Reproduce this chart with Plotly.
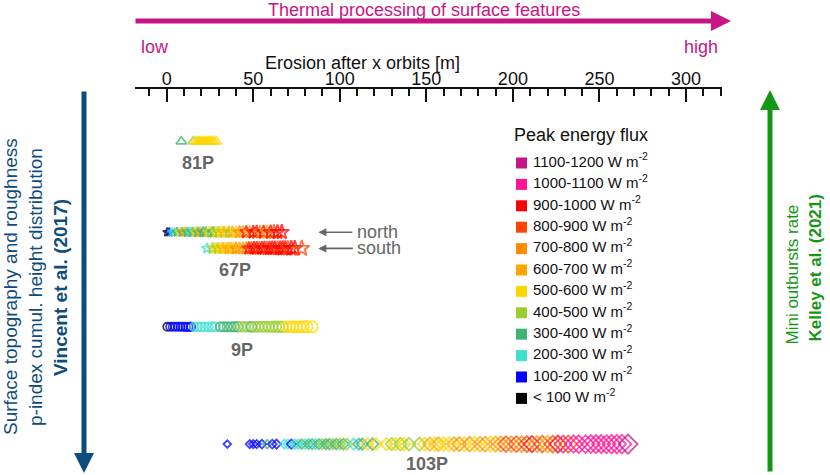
import plotly.graph_objects as go

# peak energy flux bins (lower bound, W m-2) -> colour
flux_bins = [1100, 1000, 900, 800, 700, 600, 500, 400, 300, 200, 100, 0]
flux_colors = ["#C71585", "#FF1493", "#FF0000", "#FF4500", "#FF8C00", "#FFA500",
               "#FFD700", "#9ACD32", "#3CB371", "#40E0D0", "#0000FF", "#000000"]
flux_labels = ["1100-1200 W m<sup>-2</sup>", "1000-1100 W m<sup>-2</sup>", "900-1000 W m<sup>-2</sup>",
               "800-900 W m<sup>-2</sup>", "700-800 W m<sup>-2</sup>", "600-700 W m<sup>-2</sup>",
               "500-600 W m<sup>-2</sup>", "400-500 W m<sup>-2</sup>", "300-400 W m<sup>-2</sup>",
               "200-300 W m<sup>-2</sup>", "100-200 W m<sup>-2</sup>", "< 100 W m<sup>-2</sup>"]
color_of = dict(zip(flux_bins, flux_colors))

# erosion [m] and peak flux bin per surface point
x_81p = [8.5, 15.5, 17, 18, 19, 20, 21, 22, 23, 24, 25, 26, 27, 28.5]
f_81p = [300, 400, 500, 500, 500, 500, 500, 500, 500, 500, 500, 500, 500, 500]

x_67n = [0.3, 1.5, 3, 4.5, 6, 7.5, 9, 10.5, 12, 13.5, 15, 16.5, 18, 19.5, 21, 22.5, 24, 25.5,
         27, 28.5, 30, 31.5, 33, 34.5, 36, 38, 40, 42, 44, 46, 48, 50, 52, 54, 56, 58, 60,
         62, 64, 66.5]
f_67n = [0, 100, 200, 200, 300, 500, 300, 600, 300, 200, 300, 500, 300, 600, 300, 300, 500, 400,
         300, 500, 400, 500, 600, 500, 400, 600, 500, 700, 600, 900, 600, 900, 900, 700, 900, 600, 900,
         800, 900, 900]

x_67s = [23.3, 26.5, 28, 29.5, 31, 32.5, 34, 35.5, 37, 38.5, 40, 42, 44, 46, 47.5, 49, 50.5, 52,
         53.5, 55, 56.5, 58, 59.5, 61, 62.5, 64, 65.5, 67, 68.5, 70, 72, 74, 78]
f_67s = [200, 400, 500, 400, 500, 600, 500, 600, 600, 500, 700, 600, 600, 700, 900, 800, 900, 900,
         800, 900, 900, 800, 900, 900, 900, 800, 900, 900, 900, 800, 900, 900, 800]

x_9p = [0.3, 2, 3.5, 5, 6.5, 8, 9.5, 11, 12.5, 14, 16, 18, 20, 22, 24, 26, 28, 31, 33, 35, 37,
        39, 41, 43, 45, 47, 49, 51, 53, 55, 57, 59, 61, 63, 65, 67, 69, 71, 73, 75, 77, 79, 81, 84]
f_9p = [0, 100, 100, 100, 100, 100, 100, 100, 100, 100, 200, 200, 200, 200, 200, 200, 200, 300,
        300, 300, 300, 300, 300, 400, 400, 400, 300, 400, 400, 400, 400, 400, 400, 400, 400, 400,
        500, 500, 500, 500, 500, 500, 500, 500]

x_103p = [35, 48, 50, 52, 55, 58, 61, 63.5, 68, 70, 72, 74, 76, 78, 80, 82, 84, 86, 88, 90, 92,
          94, 96, 98, 100, 102, 104, 108, 111, 113, 116, 119, 121, 127, 130, 132, 135, 137, 140,
          146, 149, 152, 155, 157, 160, 163, 166, 169, 172, 175, 178, 181, 184, 187, 190, 193,
          196, 199, 202, 205, 208, 211, 214, 217, 220, 223, 226, 229, 232, 235, 238, 242, 245,
          248, 251, 254, 257, 260, 263, 266.5]
f_103p = [100, 100, 100, 100, 100, 300, 100, 100, 200, 200, 100, 200, 200, 300, 200, 300, 300, 200,
          300, 400, 300, 300, 400, 300, 400, 300, 400, 200, 300, 300, 500, 300, 500, 500, 400,
          500, 400, 500, 400, 400, 500, 600, 500, 600, 500, 500, 600, 700, 500, 700, 500, 600,
          700, 500, 600, 700, 800, 700, 800, 700, 800, 900, 700, 800, 600, 800, 900, 1000, 800,
          1000, 1000, 1000, 1000, 1000, 1000, 1000, 1000, 1000, 1000, 1100]

# rows on the (hidden) vertical axis
rows = {"81P": 1.36, "67P north": 3.71, "67P south": 4.13, "9P": 6.16, "103P": 9.20}
# marker symbol, base size, growth of size with erosion
series = [
    ("81P", x_81p, f_81p, "triangle-up-open", 9, 0.03),
    ("67P north", x_67n, f_67n, "star-open", 6.5, 0.07),
    ("67P south", x_67s, f_67s, "star-open", 6.5, 0.07),
    ("9P", x_9p, f_9p, "circle-open", 8, 0.04),
    ("103P", x_103p, f_103p, "diamond-open", 4.5, 0.038),
]

FONT = "Liberation Sans, Arial, sans-serif"
MAGENTA = "#C71585"
BLUE = "#0D4C7D"
GREEN = "#169616"
GREY = "#666666"

fig = go.Figure()

for name, xs, fs, sym, s0, ds in series:
    fig.add_trace(go.Scatter(
        x=xs, y=[rows[name]] * len(xs), mode="markers", name=name, showlegend=False,
        marker=dict(symbol=sym, color=[color_of[f] for f in fs],
                    size=[s0 + ds * v for v in xs], opacity=0.75,
                    line=dict(width=1.8)),
        hoverinfo="x+name",
    ))

# legend swatches on their own small axes
leg_rows = list(range(len(flux_labels)))
fig.add_trace(go.Scatter(
    x=[11.5] * len(leg_rows), y=leg_rows, mode="markers", showlegend=False, hoverinfo="skip",
    marker=dict(symbol="square", size=11, color=flux_colors), xaxis="x2", yaxis="y2"))
fig.add_trace(go.Scatter(
    x=[23] * len(leg_rows), y=leg_rows, mode="text", text=flux_labels, textposition="middle right",
    textfont=dict(family=FONT, size=15, color="#111"), showlegend=False, hoverinfo="skip",
    xaxis="x2", yaxis="y2"))

ann = []
# comet labels
for txt, x, y in [("81P", 18.3, 1.92), ("67P", 39.5, 4.69), ("9P", 43.3, 6.76), ("103P", 150.2, 9.72)]:
    ann.append(dict(x=x, y=y, xref="x", yref="y", text="<b>%s</b>" % txt, showarrow=False,
                    font=dict(family=FONT, size=18, color=GREY)))
# north / south pointers
for txt, y, ax in [("north", rows["67P north"], 59), ("south", rows["67P south"], 61)]:
    ann.append(dict(x=87.6, y=y, xref="x", yref="y", text=txt, showarrow=True, ax=ax, ay=0,
                    arrowhead=2, arrowsize=1, arrowwidth=1.6, arrowcolor=GREY, startstandoff=3,
                    font=dict(family=FONT, size=18, color=GREY)))


def paper_text(x, y, text, size, color, angle=0):
    return dict(x=x, y=y, xref="paper", yref="paper", text=text, textangle=angle,
                xanchor="center", yanchor="middle", showarrow=False,
                font=dict(family=FONT, size=size, color=color))


def paper_arrow(x, y, ax, ay, color):
    return dict(x=x, y=y, xref="paper", yref="paper", text="", showarrow=True, ax=ax, ay=ay,
                arrowhead=2, arrowsize=0.8, arrowwidth=5, arrowcolor=color)


ann += [
    paper_text(0.3884, 1.0674, "Erosion after x orbits [m]", 18, "#111"),
    paper_text(0.4923, 1.2047, "Thermal processing of surface features", 18, MAGENTA),
    paper_text(0.0341, 1.1088, "low", 18, MAGENTA),
    paper_text(0.9642, 1.1088, "high", 18, MAGENTA),
    paper_arrow(1.0153, 1.176, -597, 0, MAGENTA),
    paper_arrow(-0.0869, 0.0052, 0, -383, BLUE),
    paper_arrow(1.0818, 0.9974, 0, 383, GREEN),
    paper_text(-0.2129, 0.487, "Surface topography and roughness", 19, BLUE, -90),
    paper_text(-0.1704, 0.487, "p-index cumul. height distribution", 19, BLUE, -90),
    paper_text(-0.1278, 0.487, "<b>Vincent et al. (2017)</b>", 19, BLUE, -90),
    paper_text(1.1201, 0.5207, "Mini outbursts rate", 17, GREEN, -90),
    paper_text(1.1593, 0.5363, "<b>Kelley et al. (2021)</b>", 17, GREEN, -90),
    dict(x=2, y=-1.31, xref="x2", yref="y2", text="Peak energy flux", xanchor="left",
         yanchor="middle", showarrow=False, font=dict(family=FONT, size=18, color="#111")),
]

fig.update_layout(
    width=830, height=475,
    margin=dict(l=135, r=108, t=89, b=0),
    paper_bgcolor="white", plot_bgcolor="rgba(0,0,0,0)",
    font=dict(family=FONT, color="#111"),
    xaxis=dict(range=[-18.3, 320.8], side="top", showline=True, linecolor="#111", linewidth=1.5,
               ticks="inside", ticklen=13, tickwidth=1.5, tickcolor="#111", dtick=50, tick0=0,
               minor=dict(dtick=10, ticks="inside", ticklen=7, tickwidth=1.5, tickcolor="#111"),
               ticklabelstandoff=-5,
               showgrid=False, zeroline=False, tickfont=dict(family=FONT, size=18, color="#111")),
    yaxis=dict(range=[10, 0], visible=False),
    xaxis2=dict(domain=[(510 - 135) / 587, 1], range=[0, 212], visible=False, anchor="y2"),
    yaxis2=dict(domain=[0, 1], range=[14.58, -3.458], visible=False, anchor="x2"),
    annotations=ann,
)

fig.write_html("out.html", config={"displayModeBar": False},
               post_script="document.body.style.margin='0px';")
